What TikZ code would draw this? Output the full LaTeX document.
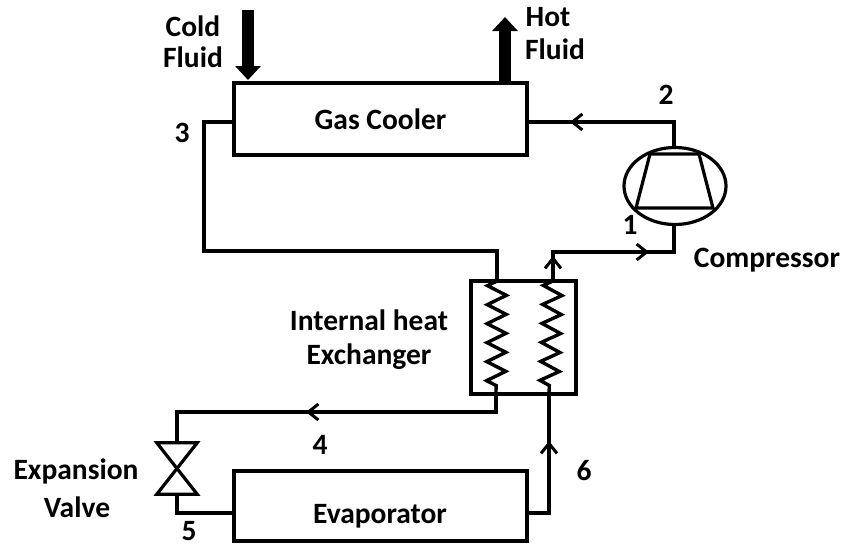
\documentclass[tikz,border=0pt]{standalone}
\usepackage{fontspec}
\setmainfont{Carlito}
\usetikzlibrary{decorations.pathmorphing,shapes,arrows.meta,positioning}

\tikzset{
	unit/.style={draw,line width=3.4pt,minimum width=293pt,minimum height=72pt,inner sep=0pt,font=\fontsize{29.5}{34}\bfseries},
	label/.style={inner sep=0pt,font=\fontsize{29.5}{34}\bfseries},
	pipe/.style={line width=3.2pt,line join=miter},
	flow/.style={pipe,-{Straight Barb[length=10pt,width=16pt,line width=3pt]}},
	fluid/.style={line width=12pt,-{Triangle[length=14pt,width=25pt]}},
	coil/.style={line width=3.4pt,decorate,decoration={zigzag,mirror,segment length=19pt,amplitude=9.5pt}}
}

\begin{document}
\begin{tikzpicture}[x=1pt,y=-1pt]
	\useasboundingbox (0,0) rectangle (843,554);

	% boxes
	\node[unit](cooler) at (380.5,119){Gas Cooler};
	\node[unit,minimum height=70pt](evap) at (380.5,506){};
	\node[label] at (380,516){Evaporator};
	\node[draw,line width=3.4pt,minimum width=105pt,minimum height=113pt,inner sep=0pt](ihx) at (523.5,337.5){};
	\node[draw,ellipse,line width=3.2pt,minimum width=102pt,minimum height=77pt,inner sep=0pt](comp) at (675,186){};
	\draw[pipe] (650,154) -- (699,154) -- (713,208) -- (636,208) -- cycle;

	% coils
	\foreach \n/\top/\bot in {hot/497/496,cold/553/549}{
		\coordinate (\n T) at (\top,281);
		\coordinate (\n B) at (\bot,394);
		\draw[coil] (\n T) -- (\n B);
	}

	% valve
	\node[minimum width=40pt,minimum height=51pt,inner sep=0pt](valve) at (177,468.5){};
	\draw[pipe] (valve.north west) -- (valve.north east) -- (valve.south west) -- (valve.south east) -- (valve.north west) -- cycle;

	% pipes
	\coordinate (c2) at (674,122);
	\coordinate (a2) at (570,122);
	\coordinate (c3) at (204,122);
	\coordinate (c3b) at (204,251);
	\coordinate (c1) at (674,252);
	\coordinate (a1) at (649,252);
	\coordinate (c5) at (553,252);
	\coordinate (a5) at (553,256);
	\coordinate (c4) at (177,412);
	\coordinate (a4) at (306,412);
	\coordinate (c6) at (177,513);
	\coordinate (c7) at (549,513);
	\coordinate (a7) at (549,441);

	\draw[pipe] (comp.north -| c2) -- (c2) -- (cooler.east |- c2);
	\draw[flow] (c2) -- (a2);
	\draw[pipe] (cooler.west |- c3) -- (c3) -- (c3b) -| (hotT);
	\draw[pipe] (comp.south -| c1) -- (c1) -- (c5) -- (coldT);
	\draw[flow] (c5) -- (a1);
	\draw[flow] (coldT) -- (a5);
	\draw[pipe] (hotB) |- (c4) -- (valve.north -| c4);
	\draw[flow] (hotB |- c4) -- (a4);
	\draw[pipe] (valve.south -| c6) -- (c6) -- (evap.west |- c6);
	\draw[pipe] (evap.east |- c7) -- (c7) -- (coldB);
	\draw[flow] (c7) -- (a7);

	% fluids
	\coordinate (coldIn) at (248,10);
	\coordinate (coldEnd) at (248,80);
	\coordinate (hotIn) at (505,81);
	\coordinate (hotEnd) at (505,17);
	\draw[fluid] (coldIn) -- (coldEnd);
	\draw[fluid] (hotIn) -- (hotEnd);

	% labels
	\node[label] at (193,26){Cold};
	\node[label] at (193,57){Fluid};
	\node[label] at (548,17){Hot};
	\node[label] at (555,49){Fluid};
	\node[label] at (182,133){3};
	\node[label] at (666,95){2};
	\node[label] at (630,225){1};
	\node[label] at (767,260){Compressor};
	\node[label] at (369,320){Internal heat};
	\node[label] at (369,357){Exchanger};
	\node[label] at (320,445){4};
	\node[label] at (189,531){5};
	\node[label] at (584,471){6};
	\node[label] at (76,471){Expansion};
	\node[label] at (77,507){Valve};
\end{tikzpicture}
\end{document}
